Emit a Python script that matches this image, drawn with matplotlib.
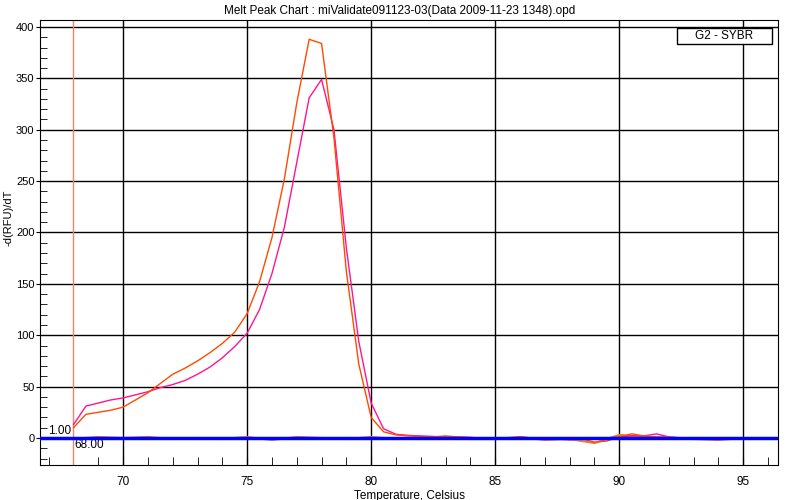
import matplotlib
matplotlib.use("Agg")
from matplotlib import pyplot as plt
from matplotlib.patches import Rectangle
from matplotlib.ticker import MultipleLocator

plt.rcParams['font.family'] = ['Liberation Sans', 'DejaVu Sans']

# temperature steps (Celsius)
temps = [68, 68.5, 69, 69.5, 70, 70.5, 71, 71.5, 72, 72.5, 73, 73.5, 74, 74.5,
         75, 75.5, 76, 76.5, 77, 77.5, 78, 78.5, 79, 79.5, 80, 80.5, 81, 81.5,
         82, 82.5, 83, 83.5, 84, 84.5, 85, 85.5, 86, 86.5, 87, 87.5, 88, 88.5,
         89, 89.5, 90, 90.5, 91, 91.5, 92, 92.5, 93, 93.5, 94, 94.5, 95]

# -d(RFU)/dT, well 1 (orange)
orange = [10, 23, 25, 27, 30, 37, 44, 53, 62, 68, 75, 83, 92, 103,
          121, 152, 195, 252, 326, 388, 384, 292, 162, 72, 20, 6, 3, 2,
          1.5, 1, 2, 1, 0.5, -1, -1, 0, 1, 0, -1, -1, -2, -1,
          -4, -3, 1, 4, 2, 1, 1, 0, 0, -1, -1, 0, 0]

# -d(RFU)/dT, well 2 (magenta)
magenta = [13, 31, 34, 37, 39, 42, 45, 49, 52, 56, 62, 69, 78, 89,
           102, 125, 160, 205, 268, 331, 349, 300, 185, 94, 34, 9, 3.6, 2.5,
           2, 1.5, 1, 1, 0.5, 0, 0, 0, 0.5, 0, 0, 0, -0.5, 0,
           -1, 0, 1, 2, 2, 4, 1, 0, -1, -1, -1, 0, 0]

# noise of the other wells near zero
noise_temps = [68, 69, 70, 71, 72, 73, 74, 75, 76, 77, 78, 79, 80, 81, 82,
               83, 84, 85, 86, 87, 88, 89, 90, 91, 92, 93, 94, 95]
noise = [-1, 1, 0, 1, -1, 0, -1, 1, -2, 1, 0, -1, 1, -1, 0,
         1, -1, -1, 1, -2, -1, -5, 3, 1, 0, -1, -2, 0]

threshold_temp = 68.0
legend_text = "G2 - SYBR"

fig = plt.figure(figsize=(8, 5), dpi=100)
ax = fig.add_axes([0.05, 0.07, 0.9225, 0.89])

for x in range(70, 96, 5):
    ax.axvline(x, color='black', lw=1, zorder=1)
for y in range(0, 401, 50):
    ax.axhline(y, color='black', lw=1, zorder=1)

ax.axvline(threshold_temp, color='#f08070', lw=1, zorder=2)

ax.plot(noise_temps, noise, color='#e8821e', lw=1.5, zorder=3)
ax.plot(temps, magenta, color='#ff1493', lw=1, zorder=4)
ax.plot(temps, orange, color='#ff4a00', lw=1, zorder=4)
ax.axhline(0, color='#0000ff', lw=2.5, zorder=5)

ax.set_xlim(66.65, 96.4)
ax.set_ylim(-26.3, 406.8)

ax.xaxis.set_major_locator(MultipleLocator(5))
ax.xaxis.set_minor_locator(MultipleLocator(1))
ax.yaxis.set_major_locator(MultipleLocator(50))
ax.yaxis.set_minor_locator(MultipleLocator(10))
ax.tick_params(axis='x', which='both', direction='in', length=6, labelsize=8.5, pad=8)
ax.tick_params(axis='y', which='major', direction='out', length=3, labelsize=8, pad=1)
ax.tick_params(axis='y', which='minor', direction='in', length=5)

ax.set_xlabel("Temperature, Celsius", fontsize=8.5, labelpad=1)
ax.set_ylabel("-d(RFU)/dT", fontsize=8, va='center')
ax.yaxis.set_label_coords(-0.043, 0.555)
fig.suptitle("Melt Peak Chart : miValidate091123-03(Data 2009-11-23 1348).opd",
             fontsize=8.5, y=0.99)

ax.text(threshold_temp - 0.1, 1.0, "1.00", ha='right', va='bottom', fontsize=8.5)
ax.text(threshold_temp + 0.05, -1.0, "68.00", ha='left', va='top', fontsize=8.5)

ax.add_patch(Rectangle((0.863, 0.946), 0.129, 0.036, transform=ax.transAxes,
                       fc='white', ec='black', lw=1, zorder=6))
ax.text(0.9275, 0.964, legend_text, transform=ax.transAxes, ha='center', va='center',
        fontsize=8.5, zorder=7)

fig.savefig("out.png", dpi=100)
